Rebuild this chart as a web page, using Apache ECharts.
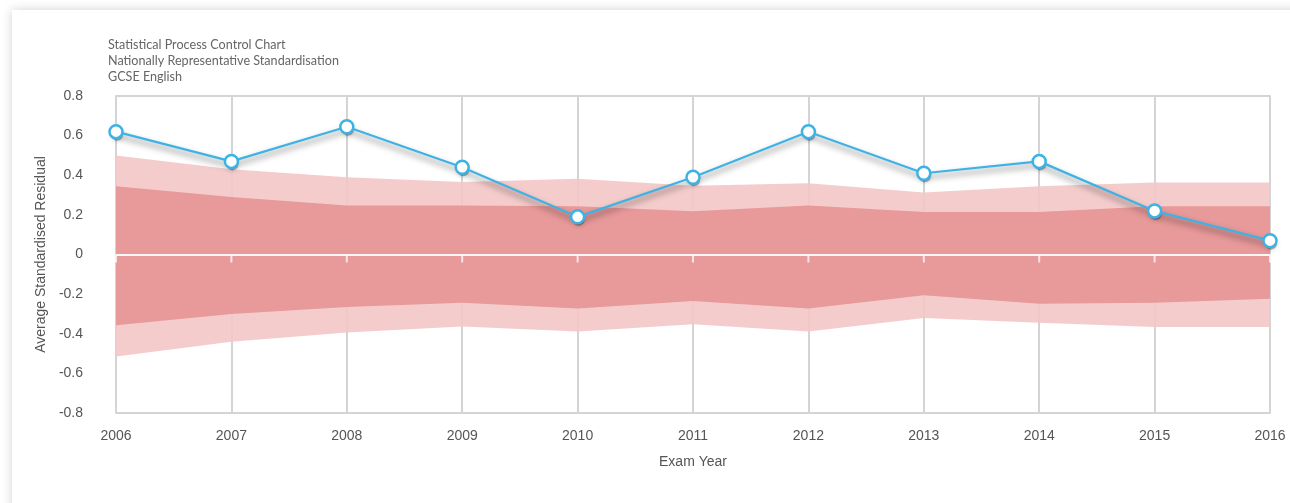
<!DOCTYPE html>
<html>
<head>
<meta charset="utf-8">
<script src="https://cdn.jsdelivr.net/npm/echarts@6/dist/echarts.min.js"></script>
<style>
  html, body { margin: 0; padding: 0; background: #fff; }
  #card {
    position: absolute; left: 12px; top: 10px; width: 1300px; height: 520px;
    background: #fff; box-shadow: 0 0 10px rgba(0,0,0,0.18);
  }
  #chart { position: absolute; left: 0; top: 0; width: 1290px; height: 503px; }
</style>
</head>
<body>
<div id="card"></div>
<div id="chart"></div>
<script>
// exam years and average standardised residuals
var years = [2006, 2007, 2008, 2009, 2010, 2011, 2012, 2013, 2014, 2015, 2016];
var residuals = [0.62, 0.47, 0.645, 0.44, 0.19, 0.39, 0.62, 0.41, 0.47, 0.22, 0.07];

// control limits (outer = light band, inner = dark band)
var outerUpper = [0.50, 0.43, 0.39, 0.366, 0.382, 0.347, 0.36, 0.313, 0.344, 0.364, 0.364];
var innerUpper = [0.344, 0.29, 0.247, 0.247, 0.243, 0.218, 0.247, 0.215, 0.215, 0.243, 0.243];
var innerLower = [-0.357, -0.30, -0.265, -0.243, -0.273, -0.235, -0.273, -0.206, -0.248, -0.243, -0.223];
var outerLower = [-0.515, -0.44, -0.394, -0.364, -0.389, -0.352, -0.389, -0.32, -0.344, -0.366, -0.366];

var yTicks = { min: -0.8, max: 0.8, step: 0.2 };

function pairs(vals) {
  return years.map(function (y, i) { return [y, vals[i]]; });
}

var lightPink = 'rgba(243,198,198,0.9)';
var darkPink = 'rgba(231,147,147,0.9)';
var blue = '#3db3e5';
var txt = '#555';
var gridGrey = '#d4d4d4';
var zeroWhite = '#fbf7f7';

function band(name, vals, color) {
  return {
    name: name, type: 'line', data: pairs(vals),
    symbol: 'none', silent: true,
    lineStyle: { width: 0 },
    areaStyle: { color: color, opacity: 1 },
    z: 1
  };
}

var chart = echarts.init(document.getElementById('chart'));
chart.setOption({
  animation: false,
  textStyle: { fontFamily: 'Liberation Sans' },
  title: {
    text: 'Statistical Process Control Chart\nNationally Representative Standardisation\nGCSE English',
    left: 103, top: 32,
    textStyle: { fontFamily: 'Lato', fontSize: 12.6, fontWeight: 'normal', color: '#666', lineHeight: 16 }
  },
  grid: { left: 116, right: 20, top: 96, bottom: 90 },
  xAxis: [
    {
      type: 'value', min: years[0], max: years[years.length - 1], interval: 1,
      position: 'bottom',
      name: 'Exam Year', nameLocation: 'middle', nameGap: 42,
      nameTextStyle: { fontSize: 14, color: txt },
      axisLine: { onZero: false, lineStyle: { color: gridGrey, width: 2 } },
      axisTick: { show: false },
      axisLabel: { fontSize: 14, color: txt, margin: 16, formatter: function (v) { return String(v); } },
      splitLine: { show: true, lineStyle: { color: gridGrey, width: 2 } }
    },
    {
      type: 'value', min: years[0], max: years[years.length - 1], interval: 1,
      position: 'top',
      axisLine: { onZero: false, lineStyle: { color: gridGrey, width: 2 } },
      axisTick: { show: false }, axisLabel: { show: false }, splitLine: { show: false }
    }
  ],
  yAxis: {
    type: 'value', min: yTicks.min, max: yTicks.max, interval: yTicks.step,
    name: 'Average Standardised Residual', nameLocation: 'middle', nameGap: 66,
    nameTextStyle: { fontSize: 14, color: txt },
    axisLine: { show: false }, axisTick: { show: false },
    axisLabel: { fontSize: 14, color: txt, margin: 33 },
    splitLine: { show: false }
  },
  series: [
    band('outerUpper', outerUpper, lightPink),
    band('outerLower', outerLower, lightPink),
    band('innerUpper', innerUpper, darkPink),
    Object.assign(band('innerLower', innerLower, darkPink), {
      markLine: {
        silent: true, symbol: 'none', label: { show: false },
        lineStyle: { color: zeroWhite, width: 2, type: 'solid' },
        data: [{ yAxis: 0 }]
      }
    }),
    {
      // year ticks hanging from the zero line
      name: 'zeroTicks', type: 'scatter', silent: true, z: 5,
      data: years.map(function (y) { return [y, 0]; }),
      symbol: 'rect', symbolSize: [2, 8], symbolOffset: [0, 4],
      itemStyle: { color: zeroWhite }
    },
    {
      // soft drop shadow under each marker
      name: 'markerShadow', type: 'scatter', data: pairs(residuals),
      symbol: 'circle', symbolSize: 12, symbolOffset: [1, 3], silent: true, z: 9,
      itemStyle: { color: 'rgba(40,40,40,0.45)', shadowColor: 'rgba(0,0,0,0.5)', shadowBlur: 5 }
    },
    {
      name: 'Residual', type: 'line', data: pairs(residuals),
      symbol: 'circle', symbolSize: 13, z: 10,
      lineStyle: { color: blue, width: 2.2, shadowColor: 'rgba(0,0,0,0.55)', shadowBlur: 6, shadowOffsetY: 4 },
      itemStyle: { color: '#ffffff', borderColor: blue, borderWidth: 2.5 }
    }
  ]
});
</script>
</body>
</html>
